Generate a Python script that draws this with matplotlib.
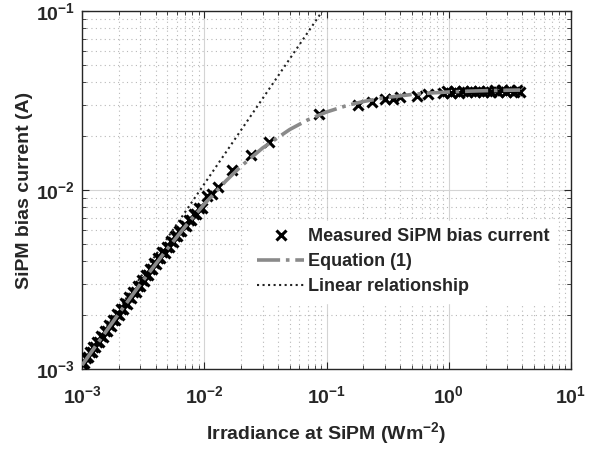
import matplotlib
matplotlib.use("Agg")
import matplotlib.pyplot as plt
from matplotlib.ticker import LogLocator, NullFormatter

plt.rcParams['font.family'] = ['Liberation Sans', 'DejaVu Sans']
plt.rcParams['font.weight'] = 'bold'
plt.rcParams['mathtext.fontset'] = 'custom'
plt.rcParams['mathtext.rm'] = 'Liberation Sans:bold'
plt.rcParams['mathtext.bf'] = 'Liberation Sans:bold'
plt.rcParams['mathtext.it'] = 'Liberation Sans:bold'

# Measured SiPM bias current (irradiance W/m^2, current A)
meas_x = [0.00100, 0.00104, 0.00108, 0.00112, 0.00116, 0.00120, 0.00124, 0.00128,
          0.00133, 0.00138, 0.00143, 0.00148, 0.00154, 0.00160, 0.00166, 0.00172,
          0.00179, 0.00186, 0.00193, 0.00200, 0.00208, 0.00216, 0.00225, 0.00234,
          0.00243, 0.00253, 0.00263, 0.00274, 0.00285, 0.00296, 0.00308, 0.00320,
          0.00333, 0.00346, 0.00360, 0.00374, 0.00389, 0.00405, 0.00421, 0.00438,
          0.00455, 0.00473, 0.00492, 0.00512, 0.00533, 0.00554, 0.00576, 0.00600,
          0.00625, 0.00650, 0.00680, 0.00710, 0.00745, 0.00780, 0.00820, 0.00860,
          0.00905, 0.00950,
          0.0105, 0.0115, 0.0130, 0.0168, 0.0240, 0.0339, 0.0873,
          0.180, 0.234, 0.301, 0.352, 0.399, 0.547, 0.681,
          0.90, 0.97, 1.05, 1.13, 1.22, 1.31, 1.41, 1.52, 1.64, 1.76, 1.90,
          2.04, 2.20, 2.37, 2.55, 2.74, 2.95, 3.18, 3.42, 3.62, 3.83]
meas_y = [0.00106, 0.00108, 0.00115, 0.00116, 0.00124, 0.00124, 0.00132, 0.00132,
          0.00142, 0.00141, 0.00152, 0.00150, 0.00163, 0.00162, 0.00175, 0.00174,
          0.00188, 0.00187, 0.00202, 0.00200, 0.00217, 0.00215, 0.00233, 0.00232,
          0.00251, 0.00250, 0.00270, 0.00270, 0.00291, 0.00290, 0.00313, 0.00312,
          0.00336, 0.00335, 0.00362, 0.00360, 0.00389, 0.00388, 0.00418, 0.00416,
          0.00449, 0.00446, 0.00481, 0.00479, 0.00517, 0.00513, 0.00553, 0.00550,
          0.00592, 0.00588, 0.00636, 0.00632, 0.00683, 0.00679, 0.00738, 0.00735,
          0.00795, 0.00790,
          0.0092, 0.0095, 0.0104, 0.0129, 0.0157, 0.0186, 0.0265,
          0.0299, 0.0309, 0.0321, 0.0322, 0.0329, 0.0335, 0.0344,
          0.0350, 0.0356, 0.0349, 0.0357, 0.0350, 0.0358, 0.0351, 0.0358, 0.0352,
          0.0359, 0.0352, 0.0359, 0.0353, 0.0360, 0.0353, 0.0360, 0.0354, 0.0360,
          0.0354, 0.0361, 0.0355]

# Equation (1) curve
eq_x = [0.001, 0.0015, 0.002, 0.003, 0.005, 0.007, 0.01, 0.015, 0.02, 0.03, 0.05,
        0.07, 0.1, 0.15, 0.2, 0.3, 0.5, 0.7, 1.0, 1.5, 2.0, 3.0, 3.83]
eq_y = [0.00105, 0.00155, 0.00204, 0.00298, 0.00470, 0.00626, 0.00833, 0.01122,
        0.01357, 0.01716, 0.02177, 0.02461, 0.02727, 0.02978, 0.03121, 0.03279,
        0.03418, 0.03481, 0.03529, 0.03568, 0.03588, 0.03608, 0.03616]

# Linear relationship
lin_x = [0.001, 0.1]
lin_y = [0.00108, 0.108]

x_ticks = [1e-3, 1e-2, 1e-1, 1e0, 1e1]
x_labels = [r'$\mathbf{10^{-3}}$', r'$\mathbf{10^{-2}}$', r'$\mathbf{10^{-1}}$',
            r'$\mathbf{10^{0}}$', r'$\mathbf{10^{1}}$']
y_ticks = [1e-3, 1e-2, 1e-1]
y_labels = [r'$\mathbf{10^{-3}}$', r'$\mathbf{10^{-2}}$', r'$\mathbf{10^{-1}}$']

txt = '#262626'
fig = plt.figure(figsize=(5.90, 4.49), dpi=100)
ax = fig.add_axes([82 / 590, 80 / 449, 489 / 590, 358 / 449])

ax.plot(meas_x, meas_y, linestyle='none', marker='x', color='black',
        markersize=7, markeredgewidth=2.2, label='Measured SiPM bias current', zorder=3)
ax.plot(eq_x, eq_y, linestyle='-.', color='#8a8a8a', linewidth=2.6,
        label='Equation (1)', zorder=4)
ax.plot(lin_x, lin_y, linestyle=':', color='#222222', linewidth=1.5,
        label='Linear relationship', zorder=2)

ax.set_xscale('log')
ax.set_yscale('log')
ax.set_xlim(1e-3, 1e1)
ax.set_ylim(1e-3, 1e-1)

ax.set_xticks(x_ticks)
ax.set_xticklabels(x_labels)
ax.set_yticks(y_ticks)
ax.set_yticklabels(y_labels)
ax.xaxis.set_minor_locator(LogLocator(base=10, subs=range(2, 10), numticks=20))
ax.yaxis.set_minor_locator(LogLocator(base=10, subs=range(2, 10), numticks=20))
ax.xaxis.set_minor_formatter(NullFormatter())
ax.yaxis.set_minor_formatter(NullFormatter())

ax.grid(True, which='major', color='#d4d4d4', linestyle='-', linewidth=0.8)
ax.grid(True, which='minor', color='#b8b8b8', linestyle=(0, (1, 3)), linewidth=0.8)
ax.set_axisbelow(True)

ax.tick_params(which='both', direction='in', top=True, right=True, colors=txt,
               labelsize=14)
ax.tick_params(axis='x', which='major', pad=12)
ax.tick_params(axis='y', which='major', pad=5)
ax.tick_params(which='major', length=5, width=0.8)
ax.tick_params(which='minor', length=3, width=0.6)
for s in ax.spines.values():
    s.set_color(txt)
    s.set_linewidth(1.0)

ax.set_xlabel(r'Irradiance at SiPM (Wm$^{\mathbf{-2}}$)', fontsize=14,
              fontweight='bold', color=txt, labelpad=9)
ax.set_ylabel('SiPM bias current (A)', fontsize=14, fontweight='bold', color=txt,
              labelpad=2)

leg = ax.legend(loc='upper left', bbox_to_anchor=((250 - 82) / 489, (369 - 221) / 358),
                fontsize=13, frameon=True, fancybox=False, edgecolor='white',
                facecolor='white', framealpha=1.0, handlelength=2.6,
                handletextpad=0.2, borderpad=0.4, borderaxespad=0.0,
                labelspacing=0.45)
for t in leg.get_texts():
    t.set_color(txt)
    t.set_fontweight('bold')

fig.savefig('out.png', dpi=100)
